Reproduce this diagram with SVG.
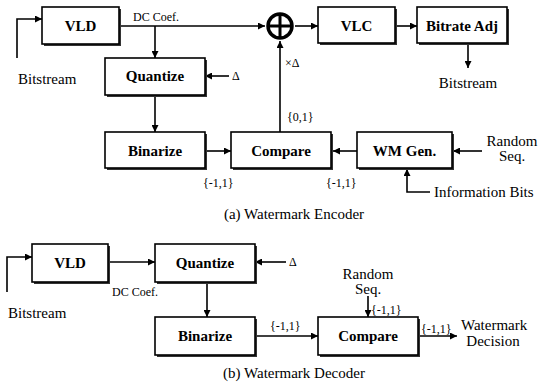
<svg xmlns="http://www.w3.org/2000/svg" width="538" height="385" viewBox="0 0 538 385" font-family="'Liberation Serif', 'DejaVu Serif', serif">
<defs>
<marker id="ah" viewBox="0 0 10 10" refX="10" refY="5" markerWidth="8" markerHeight="7" markerUnits="userSpaceOnUse" orient="auto">
<path d="M0,0 L10,5 L0,10 Z" fill="#000"/>
</marker>
</defs>
<style>
text{font-family:'Liberation Serif','DejaVu Serif',serif}
.box{fill:#fff;stroke:#000;stroke-width:1.6}
.sh{fill:#333}
.bl{font-weight:bold;font-size:15px;text-anchor:middle;fill:#000}
.t{font-size:15px;fill:#000}
.s{font-size:12px;fill:#000}
.c{stroke:#000;stroke-width:1.6;fill:none}
.a{marker-end:url(#ah)}
</style>
<rect width="538" height="385" fill="#fff"/>

<g id="connectors">
<path class="c a" d="M17,58 V19 H42"/>
<path class="c a" d="M119,26 H265"/>
<path class="c a" d="M155,26 V58"/>
<path class="c a" d="M229,76 H205"/>
<path class="c a" d="M155,95 V132"/>
<path class="c a" d="M205,151 H231"/>
<path class="c a" d="M357,151 H333"/>
<path class="c a" d="M482,151 H453"/>
<path class="c a" d="M430,192 H407 V169"/>
<path class="c a" d="M280,132 V41"/>
<path class="c a" d="M295,26 H318"/>
<path class="c a" d="M395,26 H417"/>
<path class="c a" d="M468,43 V68"/>

<path class="c a" d="M7,292 V257 H32"/>
<path class="c a" d="M108,262 H155"/>
<path class="c a" d="M286,262 H255"/>
<path class="c a" d="M207,282 V317"/>
<path class="c a" d="M255,336 H318"/>
<path class="c a" d="M368,296 V317"/>
<path class="c a" d="M418,336 H457"/>
</g>

<g id="enc-vld"><rect class="sh" x="44" y="9" width="77" height="37"/><rect class="box" x="42" y="7" width="77" height="37"/><text class="bl" x="80.5" y="31">VLD</text></g>
<g id="enc-adder"><circle cx="280" cy="26" r="12" fill="#fff" stroke="#000" stroke-width="3.5"/><path d="M268,26 H292 M280,14 V38" stroke="#000" stroke-width="3"/></g>
<g id="enc-vlc"><rect class="sh" x="320" y="9" width="77" height="36"/><rect class="box" x="318" y="7" width="77" height="36"/><text class="bl" x="356.5" y="30.5">VLC</text></g>
<g id="enc-bitrate"><rect class="sh" x="419" y="9" width="90" height="36"/><rect class="box" x="417" y="7" width="90" height="36"/><text class="bl" x="462" y="30.5">Bitrate Adj</text></g>
<g id="enc-quantize"><rect class="sh" x="107" y="60" width="100" height="37"/><rect class="box" x="105" y="58" width="100" height="37"/><text class="bl" x="155" y="81">Quantize</text></g>
<g id="enc-binarize"><rect class="sh" x="107" y="134" width="100" height="36"/><rect class="box" x="105" y="132" width="100" height="36"/><text class="bl" x="155" y="155.5">Binarize</text></g>
<g id="enc-compare"><rect class="sh" x="233" y="134" width="100" height="36"/><rect class="box" x="231" y="132" width="100" height="36"/><text class="bl" x="281" y="155.5">Compare</text></g>
<g id="enc-wmgen"><rect class="sh" x="359" y="134" width="95" height="36"/><rect class="box" x="357" y="132" width="95" height="36"/><text class="bl" x="404.5" y="155.5">WM Gen.</text></g>

<g id="enc-labels">
<text class="s" x="133" y="21">DC Coef.</text>
<text class="t" x="18" y="84">Bitstream</text>
<text class="t" x="468" y="88" text-anchor="middle">Bitstream</text>
<text class="s" x="232" y="80" font-size="11">Δ</text>
<text class="s" x="285" y="67">×Δ</text>
<text class="s" x="287" y="121">{0,1}</text>
<text class="s" x="203" y="187">{-1,1}</text>
<text class="s" x="326" y="187">{-1,1}</text>
<text class="t" x="512" y="146" text-anchor="middle">Random</text>
<text class="t" x="512" y="161" text-anchor="middle">Seq.</text>
<text class="t" x="434" y="197">Information Bits</text>
<text class="t" x="294" y="219" text-anchor="middle">(a) Watermark Encoder</text>
</g>

<g id="dec-vld"><rect class="sh" x="34" y="246" width="76" height="38"/><rect class="box" x="32" y="244" width="76" height="38"/><text class="bl" x="70" y="268">VLD</text></g>
<g id="dec-quantize"><rect class="sh" x="157" y="246" width="100" height="38"/><rect class="box" x="155" y="244" width="100" height="38"/><text class="bl" x="205" y="268">Quantize</text></g>
<g id="dec-binarize"><rect class="sh" x="157" y="319" width="100" height="38"/><rect class="box" x="155" y="317" width="100" height="38"/><text class="bl" x="205" y="341">Binarize</text></g>
<g id="dec-compare"><rect class="sh" x="320" y="319" width="100" height="38"/><rect class="box" x="318" y="317" width="100" height="38"/><text class="bl" x="368" y="341">Compare</text></g>

<g id="dec-labels">
<text class="t" x="8" y="318">Bitstream</text>
<text class="s" x="112" y="296">DC Coef.</text>
<text class="s" x="289" y="266" font-size="11">Δ</text>
<text class="s" x="270" y="330">{-1,1}</text>
<text class="t" x="368" y="279" text-anchor="middle">Random</text>
<text class="t" x="368" y="294" text-anchor="middle">Seq.</text>
<text class="s" x="371" y="314">{-1,1}</text>
<text class="s" x="421" y="333">{-1,1}</text>
<text class="t" x="461" y="330" font-size="14px">Watermark</text>
<text class="t" x="493" y="346" text-anchor="middle" font-size="14px">Decision</text>
<text class="t" x="294" y="378" text-anchor="middle">(b) Watermark Decoder</text>
</g>
</svg>
